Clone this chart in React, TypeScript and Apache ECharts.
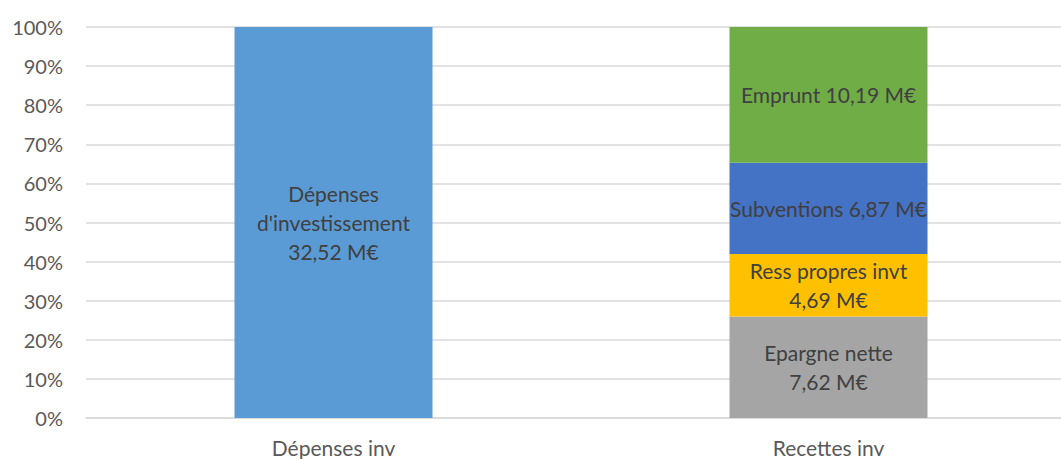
import React, { useEffect, useRef } from "react";
import * as echarts from "echarts";

const categories = ["Dépenses inv", "Recettes inv"];
const seriesNames = [
  "Dépenses d'investissement",
  "Epargne nette",
  "Ress propres invt",
  "Subventions",
  "Emprunt",
];
const depenses = [32.52, null];
const epargne = [null, 7.62];
const ressPropres = [null, 4.69];
const subventions = [null, 6.87];
const emprunt = [null, 10.19];
const yTicks = [0, 10, 20, 30, 40, 50, 60, 70, 80, 90, 100];

const colors = ["#5B9BD5", "#A5A5A5", "#FFC000", "#4472C4", "#70AD47"];
const labelTemplates = [
  (v: string) => `Dépenses\nd'investissement\n${v} M€`,
  (v: string) => `Epargne nette\n${v} M€`,
  (v: string) => `Ress propres invt\n${v} M€`,
  (v: string) => `Subventions ${v} M€`,
  (v: string) => `Emprunt ${v} M€`,
];

export default function App() {
  const ref = useRef<HTMLDivElement>(null);
  useEffect(() => {
    if (!ref.current) return;
    const chart = echarts.init(ref.current, null, { renderer: "svg" });
    const raw = [depenses, epargne, ressPropres, subventions, emprunt];
    const totals = categories.map((_, i) =>
      raw.reduce((s, arr) => s + (arr[i] ?? 0), 0)
    );
    const font = "Lato, 'Open Sans', sans-serif";
    chart.setOption({
      animation: false,
      textStyle: { fontFamily: font },
      grid: { left: 86, top: 27, width: 990, height: 391 },
      xAxis: {
        type: "category",
        data: categories,
        axisLine: { lineStyle: { color: "#D9D9D9", width: 1.5 } },
        axisTick: { show: false },
        axisLabel: { color: "#595959", fontSize: 21, margin: 19, fontFamily: font },
      },
      yAxis: {
        type: "value",
        min: 0,
        max: 100,
        interval: 10,
        axisLabel: {
          color: "#595959",
          fontSize: 20,
          margin: 23,
          fontFamily: font,
          formatter: (v: number) => (yTicks.includes(v) ? `${v}%` : ""),
        },
        splitLine: { lineStyle: { color: "#D9D9D9", width: 1.5 } },
        axisLine: { show: false },
        axisTick: { show: false },
      },
      series: raw.map((arr, si) => ({
        name: seriesNames[si],
        type: "bar",
        stack: "total",
        barWidth: 198,
        itemStyle: { color: colors[si] },
        data: arr.map((v, i) =>
          v == null ? null : { value: (v / totals[i]) * 100, raw: v }
        ),
        label: {
          show: true,
          position: "inside",
          color: "#404040",
          fontSize: 21,
          lineHeight: 29,
          fontFamily: font,
          formatter: (p: any) =>
            labelTemplates[si](p.data.raw.toFixed(2).replace(".", ",")),
        },
      })),
    });
    return () => chart.dispose();
  }, []);
  return (
    <div
      style={{
        position: "absolute",
        left: 0,
        top: 0,
        width: 1061,
        height: 459,
        overflow: "hidden",
      }}
    >
      <div ref={ref} style={{ width: 1090, height: 459 }} />
    </div>
  );
}
